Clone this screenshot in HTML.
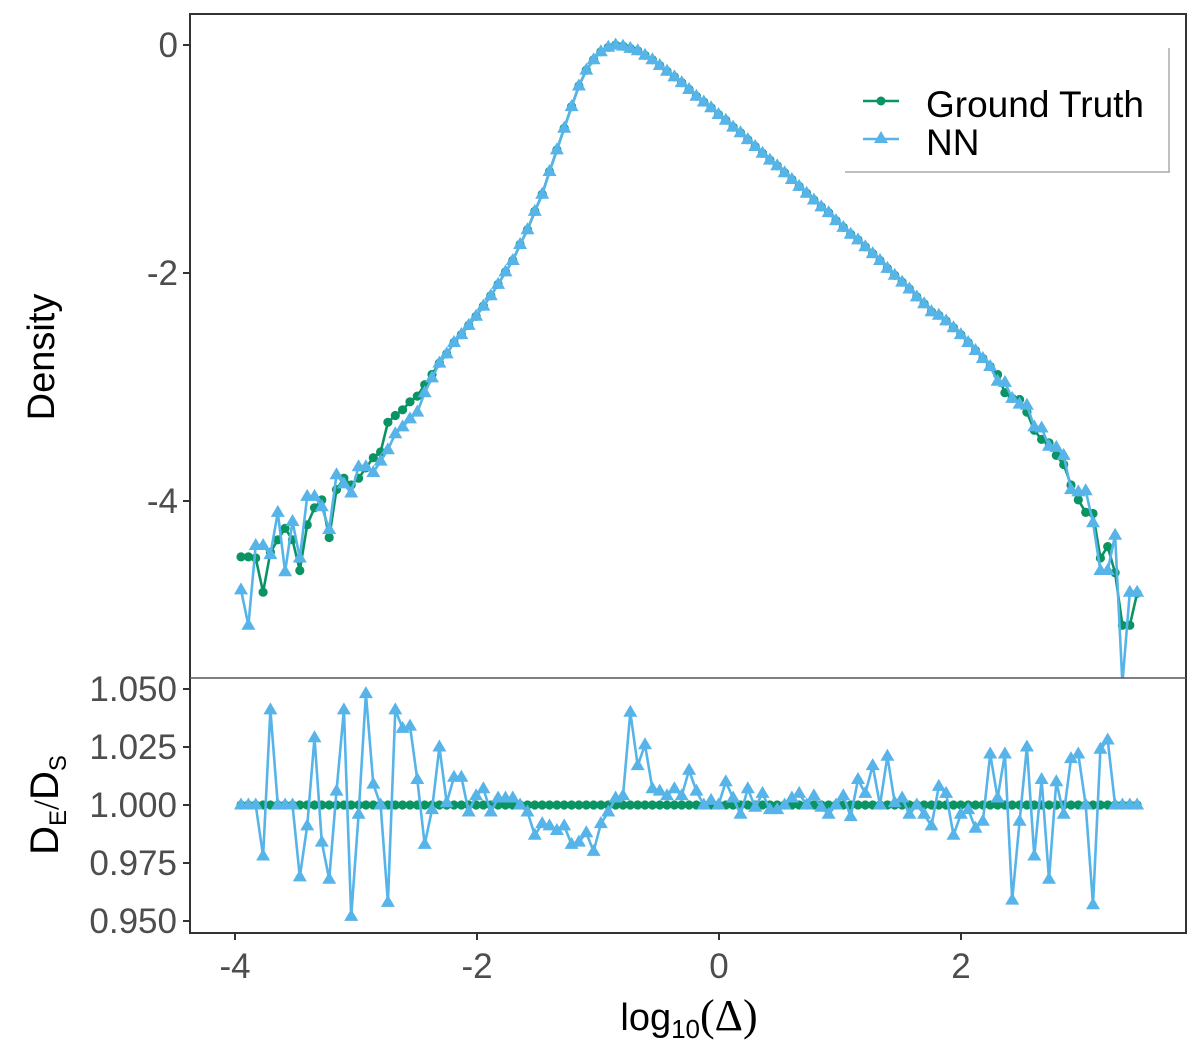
<!DOCTYPE html>
<html><head><meta charset="utf-8">
<style>
html,body{margin:0;padding:0;background:#fff;}
svg{display:block;}
text{font-family:"Liberation Sans",Arial,sans-serif;}
</style></head>
<body>
<svg id="chart" width="1200" height="1048" viewBox="0 0 1200 1048" xmlns="http://www.w3.org/2000/svg">
<defs>
<clipPath id="clipTop"><rect x="190" y="14" width="997" height="664"/></clipPath>
<clipPath id="clipBot"><rect x="190" y="678" width="997" height="255"/></clipPath>
</defs>
<rect x="0" y="0" width="1200" height="1048" fill="#fff"/>
<g id="gTop" clip-path="url(#clipTop)"></g>
<g id="gBot" clip-path="url(#clipBot)"></g>
<g id="axes"></g>
<rect x="190" y="14" width="996" height="919" fill="none" stroke="#333" stroke-width="2"/>
<line x1="190" y1="678" x2="1186" y2="678" stroke="#555" stroke-width="1.5"/>
<text x="54" y="357" transform="rotate(-90 54 357)" text-anchor="middle" font-size="38" fill="#000">Density</text>
<g transform="rotate(-90 58 805)">
<text x="58" y="805" text-anchor="middle" font-size="40" fill="#000"><tspan>D</tspan><tspan font-size="24" dy="8">E</tspan><tspan dy="-8" font-size="36" font-family="Liberation Serif">/</tspan><tspan>D</tspan><tspan font-size="24" dy="8">S</tspan></text>
</g>
<text x="689" y="1030" text-anchor="middle" font-size="38" fill="#000"><tspan>log</tspan><tspan font-size="26" dy="8">10</tspan><tspan dy="-8" font-family="Liberation Serif" font-size="44">(Δ)</tspan></text>
<g>
<line x1="845" y1="172" x2="1170" y2="172" stroke="#aaa" stroke-width="1.5"/>
<line x1="1169" y1="48" x2="1169" y2="172" stroke="#aaa" stroke-width="1.5"/>
<g>
<line x1="863" y1="101" x2="899" y2="101" stroke="#0a9463" stroke-width="2.5"/>
<circle cx="881" cy="101" r="4.5" fill="#0a9463"/>
<text x="926" y="117" font-size="37" fill="#000">Ground Truth</text>
</g>
<g>
<line x1="863" y1="139" x2="899" y2="139" stroke="#56B4E9" stroke-width="2.5"/>
<path d="M881,131 L888,143 L874,143 Z" fill="#56B4E9"/>
<text x="926" y="155" font-size="37" fill="#000">NN</text>
</g>
</g>
</svg>
<script>
const xStart = -3.95;
const xStep = 0.0607;
const groundTruth = [-4.49,-4.49,-4.50,-4.80,-4.45,-4.34,-4.24,-4.34,-4.61,-4.21,-4.06,-3.99,-4.32,-3.90,-3.80,-3.86,-3.80,-3.71,-3.62,-3.57,
-3.31,-3.25,-3.20,-3.13,-3.08,-2.98,-2.89,-2.79,-2.71,-2.61,-2.54,-2.46,-2.38,-2.29,-2.20,-2.10,-1.99,-1.89,-1.75,-1.62,
-1.46,-1.31,-1.11,-0.92,-0.73,-0.54,-0.36,-0.22,-0.13,-0.06,-0.02,0.00,-0.01,-0.03,-0.05,-0.09,-0.13,-0.18,-0.23,-0.28,
-0.33,-0.39,-0.45,-0.50,-0.55,-0.61,-0.66,-0.72,-0.77,-0.83,-0.89,-0.95,-1.01,-1.06,-1.12,-1.18,-1.24,-1.30,-1.36,-1.42,
-1.47,-1.54,-1.60,-1.66,-1.71,-1.77,-1.83,-1.89,-1.96,-2.02,-2.08,-2.14,-2.21,-2.27,-2.34,-2.37,-2.42,-2.48,-2.54,-2.61,
-2.68,-2.75,-2.82,-2.89,-3.05,-3.10,-3.11,-3.22,-3.38,-3.46,-3.49,-3.60,-3.68,-3.86,-3.99,-4.10,-4.11,-4.50,-4.40,-4.63,
-5.09,-5.09,-4.81];
const nnDensity = [-4.78,-5.09,-4.39,-4.39,-4.47,-4.10,-4.62,-4.18,-4.50,-3.96,-3.96,-4.05,-4.25,-3.77,-3.85,-3.93,-3.70,-3.70,-3.75,-3.65,
-3.55,-3.41,-3.35,-3.28,-3.22,-3.05,-2.92,-2.79,-2.71,-2.61,-2.54,-2.46,-2.38,-2.29,-2.20,-2.10,-1.99,-1.89,-1.75,-1.62,
-1.46,-1.31,-1.11,-0.92,-0.73,-0.54,-0.36,-0.22,-0.13,-0.06,-0.02,0.00,-0.01,-0.03,-0.05,-0.09,-0.13,-0.18,-0.23,-0.28,
-0.33,-0.39,-0.45,-0.50,-0.55,-0.61,-0.66,-0.72,-0.77,-0.83,-0.89,-0.95,-1.01,-1.06,-1.12,-1.18,-1.24,-1.30,-1.36,-1.42,
-1.47,-1.54,-1.60,-1.66,-1.71,-1.77,-1.83,-1.89,-1.96,-2.02,-2.08,-2.14,-2.21,-2.27,-2.34,-2.37,-2.42,-2.48,-2.54,-2.61,
-2.68,-2.75,-2.82,-2.95,-2.96,-3.10,-3.15,-3.16,-3.35,-3.36,-3.52,-3.53,-3.60,-3.90,-3.92,-3.91,-4.19,-4.61,-4.61,-4.30,
-5.60,-4.80,-4.80];
const ratioTruth = groundTruth.map(() => 1.0);
const ratioNN = [1.0,1.0,1.0,0.978,1.041,1.0,1.0,1.0,0.969,0.991,1.029,0.984,0.968,1.006,1.041,0.952,0.996,1.048,1.009,1.0,
0.958,1.041,1.033,1.034,1.011,0.983,0.998,1.025,1.001,1.012,1.012,0.997,1.004,1.007,0.997,1.003,1.003,1.003,1.0,0.997,
0.987,0.992,0.991,0.989,0.991,0.983,0.984,0.988,0.980,0.992,0.997,1.003,1.004,1.040,1.017,1.026,1.007,1.006,1.004,1.007,
1.004,1.015,1.006,1.0,1.002,1.0,
1.010,1.003,0.996,1.007,0.999,1.005,0.998,0.998,1.0,1.003,1.005,1.0,1.004,0.999,0.996,1.0,1.004,0.995,1.011,1.005,
1.017,1.0,1.021,1.001,1.003,0.996,1.0,0.996,0.991,
1.008,1.005,0.987,0.996,0.998,0.990,0.993,1.022,1.003,1.022,0.959,0.993,1.025,0.978,1.011,0.968,1.010,0.996,1.020,1.022,
1.0,0.957,1.024,1.028,
1.0,1.0,1.0,1.0];
const xTicks = [-4,-2,0,2];
const xTickLabels = ["-4","-2","0","2"];
const yTopTicks = [0,-2,-4];
const yTopTickLabels = ["0","-2","-4"];
const yBotTicks = [1.05,1.025,1.0,0.975,0.95];
const yBotTickLabels = ["1.050","1.025","1.000","0.975","0.950"];

const NS = "http://www.w3.org/2000/svg";
const xScale = v => 719 + v * 121;
const yTop = v => 45 - v * 114;
const yBot = v => 805 - (v - 1) * 2320;
const xVals = groundTruth.map((_, i) => xStart + i * xStep);

function mk(tag, attrs, parent) {
  const el = document.createElementNS(NS, tag);
  for (const k in attrs) el.setAttribute(k, attrs[k]);
  parent.appendChild(el);
  return el;
}
function series(parent, vals, ys, color, marker, name) {
  const g = mk('g', {}, parent);
  
  
  const pts = vals.map((v, i) => xScale(xVals[i]).toFixed(1) + ',' + ys(v).toFixed(1)).join(' ');
  const pl = mk('polyline', {points: pts, fill: 'none', stroke: color, 'stroke-width': 2.6, 'stroke-linejoin': 'round'}, g);
  
  
  vals.forEach((v, i) => {
    const cx = xScale(xVals[i]), cy = ys(v);
    let m;
    if (marker === 'circle') {
      m = mk('circle', {cx: cx.toFixed(1), cy: cy.toFixed(1), r: 4.6, fill: color}, g);
    } else {
      m = mk('path', {d: `M${cx.toFixed(1)},${(cy-7.5).toFixed(1)} L${(cx+7).toFixed(1)},${(cy+4.5).toFixed(1)} L${(cx-7).toFixed(1)},${(cy+4.5).toFixed(1)} Z`, fill: color}, g);
    }
    
    
  });
}
const gTop = document.getElementById('gTop');
const gBot = document.getElementById('gBot');
series(gTop, groundTruth, yTop, '#0a9463', 'circle', 'ground-truth-density');
series(gTop, nnDensity, yTop, '#56B4E9', 'tri', 'nn-density');
series(gBot, ratioTruth, yBot, '#0a9463', 'circle', 'ground-truth-ratio');
series(gBot, ratioNN, yBot, '#56B4E9', 'tri', 'nn-ratio');

const axes = document.getElementById('axes');
xTicks.forEach((t, i) => {
  const x = xScale(t);
  const l = mk('line', {x1: x, y1: 933, x2: x, y2: 940, stroke: '#333', 'stroke-width': 2}, axes);
  
  
  const tx = mk('text', {x: x, y: 978, 'text-anchor': 'middle', 'font-size': 35, fill: '#4d4d4d'}, axes);
  tx.textContent = xTickLabels[i];
  
  
});
yTopTicks.forEach((t, i) => {
  const y = yTop(t);
  const l = mk('line', {x1: 183, y1: y, x2: 190, y2: y, stroke: '#333', 'stroke-width': 2}, axes);
  
  
  const tx = mk('text', {x: 178, y: y + 12, 'text-anchor': 'end', 'font-size': 35, fill: '#4d4d4d'}, axes);
  tx.textContent = yTopTickLabels[i];
  
  
});
yBotTicks.forEach((t, i) => {
  const y = yBot(t);
  const l = mk('line', {x1: 183, y1: y, x2: 190, y2: y, stroke: '#333', 'stroke-width': 2}, axes);
  
  
  const tx = mk('text', {x: 177, y: y + 12, 'text-anchor': 'end', 'font-size': 35, fill: '#4d4d4d'}, axes);
  tx.textContent = yBotTickLabels[i];
  
  
});
</script>
</body></html>
